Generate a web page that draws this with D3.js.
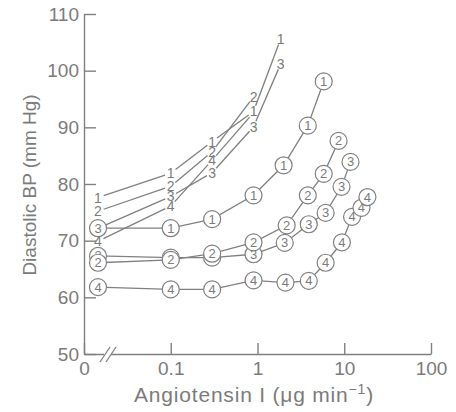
<!DOCTYPE html>
<html lang="en">
<head>
<meta charset="UTF-8">
<title>Diastolic BP vs Angiotensin I</title>
<style>
  body { margin: 0; background: #fff; }
  text { font-family: "Liberation Sans", Arial, sans-serif; fill: #7b7b7b; }
</style>
</head>
<body>
<div class="graph"></div>
<script src="https://d3js.org/d3.v7.min.js"></script>
<script>
    var w = 456, h = 412;
    var gray = "#808080";

    // x ticks and y ticks
    var xTicks = [0.01, 0.1, 1, 10, 100];
    var xTickLabels = ["0", "0.1", "1", "10", "100"];
    var yTicks = [50, 60, 70, 80, 90, 100, 110];
    // control (dose 0) points sit just right of the axis break
    var zeroDosePos = 0.0145;

    // plain-numbered series
    var plainNames = ["1", "2", "3", "4"];
    var plainDoses = [
        [0, 0.1, 0.3, 0.9, 1.85],
        [0, 0.1, 0.3, 0.9],
        [0, 0.1, 0.3, 0.9, 1.85],
        [0, 0.1, 0.3, 0.9]
    ];
    var plainBP = [
        [77.6, 81.9, 87.5, 92.8, 105.6],
        [75.2, 79.6, 85.7, 95.4],
        [72.2, 77.8, 82.0, 90.1, 101.2],
        [69.9, 76.1, 84.2, 92.6]
    ];

    // circled series
    var circledNames = ["1", "2", "3", "4"];
    var circledCtrlMark = ["3", "2", "3", "4"];
    var circledDoses = [
        [0, 0.1, 0.3, 0.9, 2.0, 3.8, 5.8],
        [0, 0.1, 0.3, 0.9, 2.17, 3.8, 5.8, 8.6],
        [0, 0.1, 0.3, 0.9, 2.06, 3.9, 6.1, 9.3, 11.8],
        [0, 0.1, 0.3, 0.9, 2.1, 3.9, 6.1, 9.4, 12.3, 15.8, 18.5]
    ];
    var circledBP = [
        [72.2, 72.2, 73.8, 78.0, 83.3, 90.3, 98.1],
        [66.1, 66.6, 67.7, 69.7, 72.7, 78.0, 81.8, 87.6],
        [67.3, 67.0, 67.0, 67.6, 69.6, 72.9, 74.9, 79.5, 83.9],
        [61.8, 61.4, 61.4, 63.0, 62.6, 62.9, 66.1, 69.7, 74.2, 75.8, 77.7]
    ];

    var svg = d3.select(".graph")
        .append("svg")
        .attr("width", w)
        .attr("height", h);

    var x = d3.scaleLog().domain([0.01, 100]).range([84, 431]);
    var y = d3.scaleLinear().domain([50, 110]).range([354, 14]);
    function px(d) { return x(d === 0 ? zeroDosePos : d); }

    // axes
    var yAxis = d3.axisLeft(y).tickValues(yTicks).tickSize(-12).tickSizeOuter(0).tickPadding(5);
    var gy = svg.append("g").attr("transform", "translate(84,0)").call(yAxis);
    gy.selectAll("text").style("font-size", "19px").attr("fill", "#7b7b7b");

    var xAxis = d3.axisBottom(x).tickValues(xTicks).tickSize(-11).tickSizeOuter(0).tickPadding(8)
        .tickFormat(function(d, i) { return xTickLabels[i]; });
    var gx = svg.append("g").attr("transform", "translate(0,354)").call(xAxis);
    gx.selectAll("text").style("font-size", "19px").attr("fill", "#7b7b7b");

    svg.selectAll(".domain, .tick line").attr("stroke", gray).attr("stroke-width", 1.4);

    // axis break
    svg.append("rect").attr("x", 104).attr("y", 351).attr("width", 7).attr("height", 6).attr("fill", "#fff");
    [0, 6].forEach(function(o) {
        svg.append("line")
            .attr("x1", 100 + o).attr("y1", 362)
            .attr("x2", 110 + o).attr("y2", 347)
            .attr("stroke", gray).attr("stroke-width", 1.3);
    });

    // titles
    svg.append("text")
        .attr("transform", "translate(36,185) rotate(-90)")
        .attr("text-anchor", "middle")
        .style("font-size", "19px")
        .text("Diastolic BP (mm Hg)");
    var xt = svg.append("text")
        .attr("x", 254).attr("y", 402)
        .attr("text-anchor", "middle")
        .style("font-size", "21px")
        .style("letter-spacing", "0.8px");
    xt.append("tspan").text("Angiotensin I (");
    xt.append("tspan").text("\u03bcg min");
    xt.append("tspan").attr("dy", -8).style("font-size", "14px").text("\u22121");
    xt.append("tspan").attr("dy", 8).text(")");

    // plain series: lines with gaps round the numbers
    var gap = 6;
    var placed = [];
    plainNames.forEach(function(name, s) {
        var pts = plainDoses[s].map(function(d, i) { return [px(d), y(plainBP[s][i])]; });
        for (var i = 1; i < pts.length; i++) {
            var a = pts[i - 1], b = pts[i];
            var dx = b[0] - a[0], dy = b[1] - a[1], len = Math.sqrt(dx * dx + dy * dy);
            var ux = dx / len, uy = dy / len;
            svg.append("line")
                .attr("x1", a[0] + ux * gap).attr("y1", a[1] + uy * gap)
                .attr("x2", b[0] - ux * gap).attr("y2", b[1] - uy * gap)
                .attr("stroke", gray).attr("stroke-width", 1.3);
        }
        pts.forEach(function(p) {
            var clash = placed.some(function(q) {
                return Math.abs(q[0] - p[0]) < 7 && Math.abs(q[1] - p[1]) < 7;
            });
            if (clash) return;
            placed.push(p);
            svg.append("text")
                .attr("x", p[0]).attr("y", p[1])
                .attr("text-anchor", "middle")
                .attr("dominant-baseline", "central")
                .style("font-size", "14px")
                .text(name);
        });
    });

    // circled series
    var line = d3.line()
        .x(function(d) { return px(d[0]); })
        .y(function(d) { return y(d[1]); });

    circledNames.forEach(function(name, s) {
        var data = circledDoses[s].map(function(d, i) { return [d, circledBP[s][i]]; });
        svg.append("path")
            .attr("d", line(data))
            .attr("fill", "none")
            .attr("stroke", gray)
            .attr("stroke-width", 1.3);
    });

    circledNames.slice().reverse().forEach(function(name, r) {
        var s = circledNames.length - 1 - r;
        var data = circledDoses[s].map(function(d, i) { return [d, circledBP[s][i]]; });
        var g = svg.selectAll(".m" + s).data(data).enter()
            .append("g")
            .attr("class", "m" + s)
            .attr("transform", function(d) { return "translate(" + px(d[0]) + "," + y(d[1]) + ")"; });
        g.append("circle")
            .attr("r", 8.5)
            .attr("fill", "#fff")
            .attr("stroke", gray)
            .attr("stroke-width", 1.2);
        g.append("text")
            .attr("text-anchor", "middle")
            .attr("dominant-baseline", "central")
            .style("font-size", "13px")
            .text(function(d) { return d[0] === 0 ? circledCtrlMark[s] : name; });
    });
</script>
</body>
</html>
